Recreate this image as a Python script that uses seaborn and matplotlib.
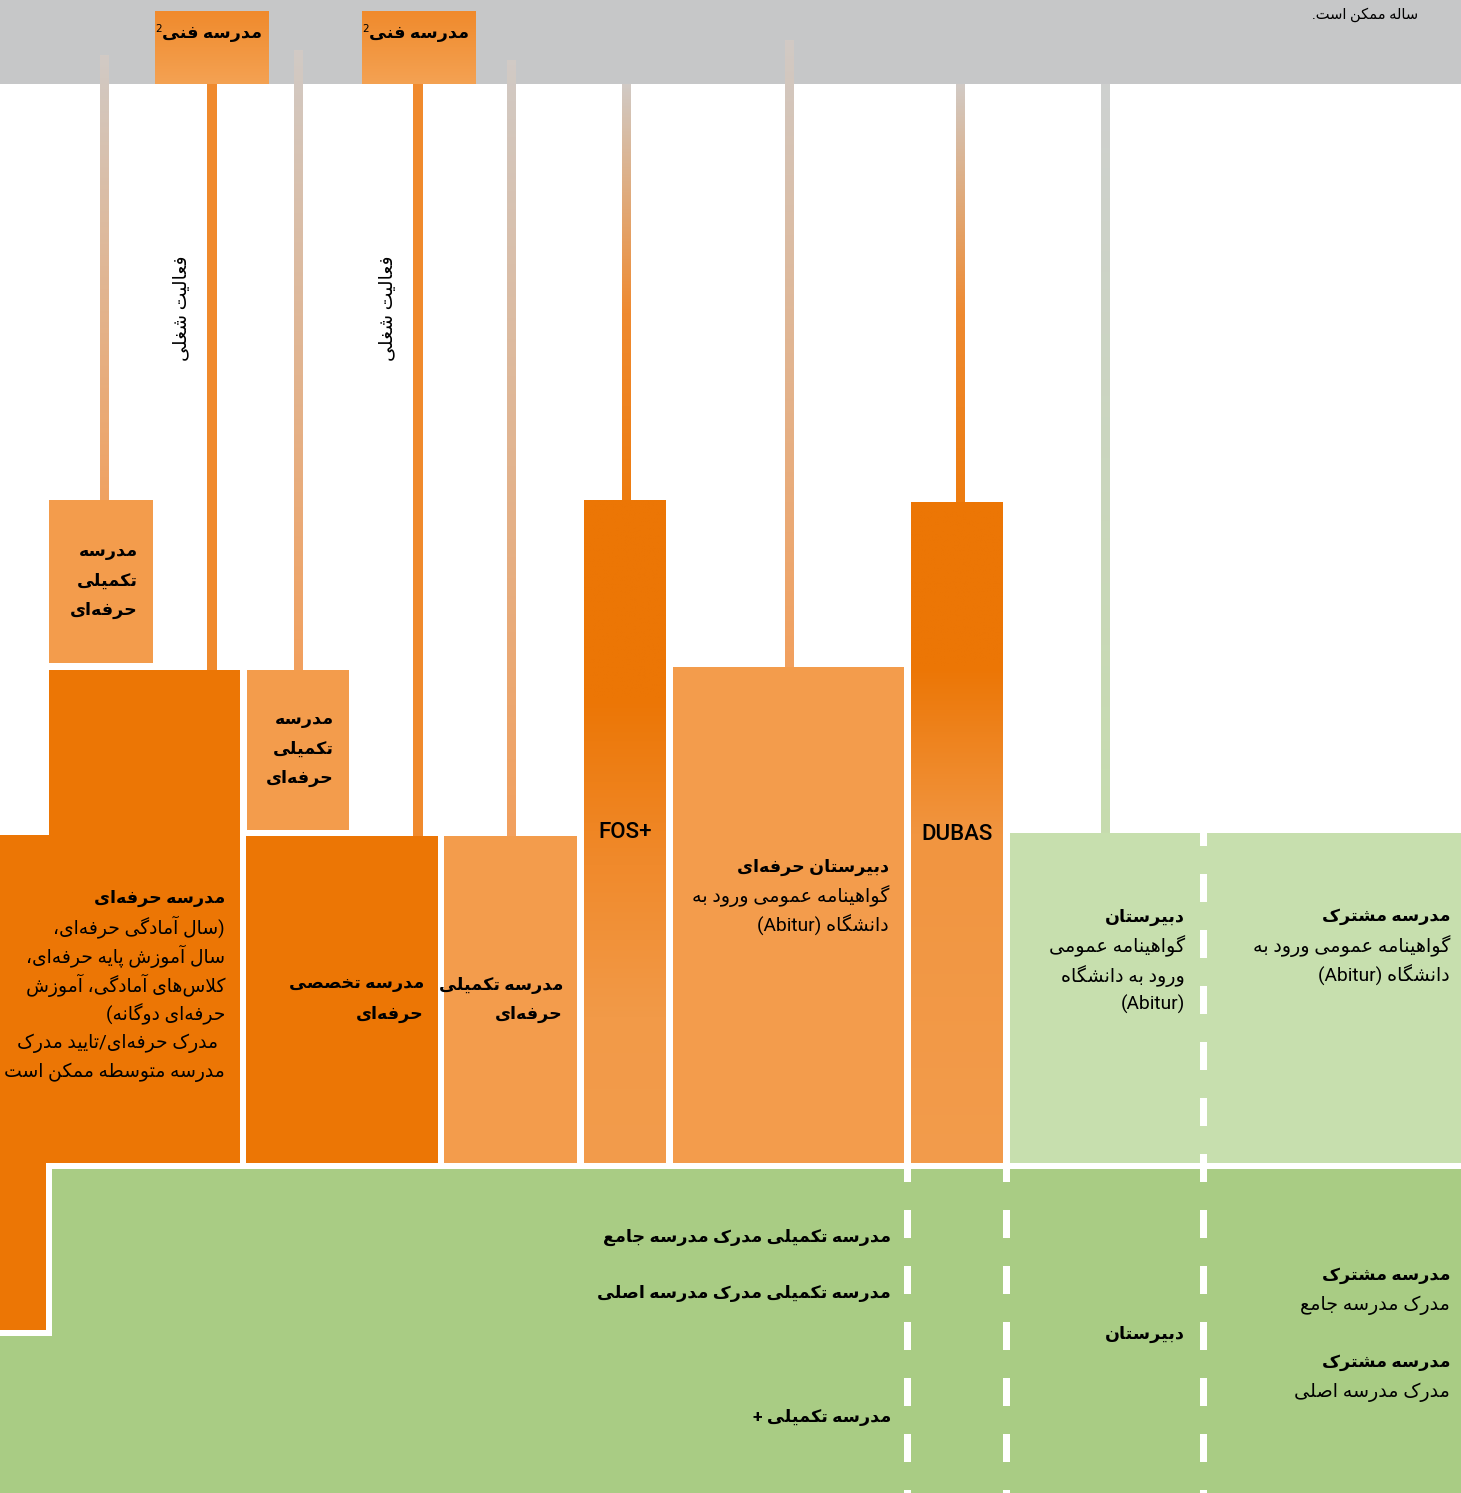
import unicodedata
import numpy as np
import matplotlib
matplotlib.use("Agg")
import matplotlib.pyplot as plt
from matplotlib.patches import Rectangle
from matplotlib.colors import LinearSegmentedColormap
import seaborn as sns

# ---------------- data (labels) ----------------
top_box_label = "مدرسه فنی²"
side_label = "فعالیت شغلی"
small_box_lines = ["مدرسه", "تکمیلی", "حرفه‌ای"]
vocational_lines = ["مدرسه حرفه‌ای", "(سال آمادگی حرفه‌ای،", "سال آموزش پایه حرفه‌ای،",
                    "کلاس‌های آمادگی، آموزش", "حرفه‌ای دوگانه)", "مدرک حرفه‌ای/تایید مدرک",
                    "مدرسه متوسطه ممکن است"]
special_lines = ["مدرسه تخصصی", "حرفه‌ای"]
further_lines = ["مدرسه تکمیلی", "حرفه‌ای"]
fos_label = "FOS+"
dubas_label = "DUBAS"
voc_high_lines = ["دبیرستان حرفه‌ای", "گواهینامه عمومی ورود به", "دانشگاه (Abitur)"]
gym_lines = ["دبیرستان", "گواهینامه عمومی", "ورود به دانشگاه", "(Abitur)"]
comp_lines = ["مدرسه مشترک", "گواهینامه عمومی ورود به", "دانشگاه (Abitur)"]
lower_mid = ["مدرسه تکمیلی مدرک مدرسه جامع", "مدرسه تکمیلی مدرک مدرسه اصلی", "مدرسه تکمیلی +"]
lower_gym = "دبیرستان"
lower_comp = ["مدرسه مشترک", "مدرک مدرسه جامع", "مدرسه مشترک", "مدرک مدرسه اصلی"]
note_line = "ساله ممکن است."

# ---------------- Persian shaping helpers ----------------
D = set("بپتثجچحخسشصضطظعغفقکگلمنهیئيك")
R = set("اآأإدذرزژوؤة")
FORMS = {
    'ا': ('\uFE8D', '\uFE8E', None, None), 'آ': ('\uFE81', '\uFE82', None, None),
    'ب': ('\uFE8F', '\uFE90', '\uFE91', '\uFE92'), 'پ': ('\uFB56', '\uFB57', '\uFB58', '\uFB59'),
    'ت': ('\uFE95', '\uFE96', '\uFE97', '\uFE98'), 'ث': ('\uFE99', '\uFE9A', '\uFE9B', '\uFE9C'),
    'ج': ('\uFE9D', '\uFE9E', '\uFE9F', '\uFEA0'), 'چ': ('\uFB7A', '\uFB7B', '\uFB7C', '\uFB7D'),
    'ح': ('\uFEA1', '\uFEA2', '\uFEA3', '\uFEA4'), 'خ': ('\uFEA5', '\uFEA6', '\uFEA7', '\uFEA8'),
    'د': ('\uFEA9', '\uFEAA', None, None), 'ذ': ('\uFEAB', '\uFEAC', None, None),
    'ر': ('\uFEAD', '\uFEAE', None, None), 'ز': ('\uFEAF', '\uFEB0', None, None),
    'ژ': ('\uFB8A', '\uFB8B', None, None),
    'س': ('\uFEB1', '\uFEB2', '\uFEB3', '\uFEB4'), 'ش': ('\uFEB5', '\uFEB6', '\uFEB7', '\uFEB8'),
    'ص': ('\uFEB9', '\uFEBA', '\uFEBB', '\uFEBC'), 'ض': ('\uFEBD', '\uFEBE', '\uFEBF', '\uFEC0'),
    'ط': ('\uFEC1', '\uFEC2', '\uFEC3', '\uFEC4'), 'ظ': ('\uFEC5', '\uFEC6', '\uFEC7', '\uFEC8'),
    'ع': ('\uFEC9', '\uFECA', '\uFECB', '\uFECC'), 'غ': ('\uFECD', '\uFECE', '\uFECF', '\uFED0'),
    'ف': ('\uFED1', '\uFED2', '\uFED3', '\uFED4'), 'ق': ('\uFED5', '\uFED6', '\uFED7', '\uFED8'),
    'ک': ('\uFB8E', '\uFB8F', '\uFB90', '\uFB91'), 'گ': ('\uFB92', '\uFB93', '\uFB94', '\uFB95'),
    'ل': ('\uFEDD', '\uFEDE', '\uFEDF', '\uFEE0'), 'م': ('\uFEE1', '\uFEE2', '\uFEE3', '\uFEE4'),
    'ن': ('\uFEE5', '\uFEE6', '\uFEE7', '\uFEE8'), 'ه': ('\uFEE9', '\uFEEA', '\uFEEB', '\uFEEC'),
    'و': ('\uFEED', '\uFEEE', None, None), 'ی': ('\uFBFC', '\uFBFD', '\uFBFE', '\uFBFF'),
    'ئ': ('\uFE89', '\uFE8A', '\uFE8B', '\uFE8C'),
}
MIRROR = str.maketrans("()", ")(")


def shape_word(w):
    ch = list(w)
    n = len(ch)
    out = []

    def jp(i):
        return (ch[i] in D or ch[i] in R) and i > 0 and ch[i - 1] in D

    def jn(i):
        return ch[i] in D and i + 1 < n and (ch[i + 1] in D or ch[i + 1] in R)

    i = 0
    while i < n:
        c = ch[i]
        if c == 'ل' and i + 1 < n and ch[i + 1] in 'اآ':
            lig = {'ا': ('\uFEFB', '\uFEFC'), 'آ': ('\uFEF5', '\uFEF6')}[ch[i + 1]]
            out.append(lig[1] if jp(i) else lig[0])
            i += 2
            continue
        if c in FORMS:
            iso, fin, ini, med = FORMS[c]
            p, q = jp(i), jn(i)
            out.append(med if (p and q) else fin if p else ini if q else iso)
        elif c != '\u200c':
            out.append(c)
        i += 1
    return ''.join(out)


def rtl(line):
    vis = []
    for w in line.split(' '):
        if any('\u0600' <= c <= '\u06FF' for c in w):
            vis.append(shape_word(w).translate(MIRROR)[::-1])
        else:
            vis.append(w)
    return ' '.join(vis[::-1])


# ---------------- figure ----------------
sns.set_theme(style="white")
plt.rcParams['font.family'] = ['DejaVu Sans']
plt.rcParams['text.color'] = 'black'
W, H = 1461, 1493
fig = plt.figure(figsize=(W / 100, H / 100), dpi=100)
ax = fig.add_axes([0, 0, 1, 1])
ax.axis('off')
ax.set_xlim(0, W)
ax.set_ylim(H, 0)

DARK = "#ec7605"
LIGHT = "#f39c4c"
GRAY = "#c6c7c8"
LGREEN = "#c7dfae"
GREEN = "#a9cc84"


def rect(x0, y0, x1, y1, c, z=1):
    ax.add_patch(Rectangle((x0, y0), x1 - x0, y1 - y0, facecolor=c, edgecolor='none', lw=0, zorder=z))


def grad(x0, y0, x1, y1, stops, z=2):
    cm = LinearSegmentedColormap.from_list('g', stops)
    arr = np.linspace(0, 1, 256).reshape(-1, 1)
    ax.imshow(arr, cmap=cm, extent=(x0, x1, y1, y0), aspect='auto', origin='upper',
              interpolation='bilinear', zorder=z)


# gray band
rect(0, 0, W, 84, GRAY)

# gradient connector lines
gline = "#d1cac5"
grad(100, 55, 109, 500, [(0, gline), (1, "#f0a262")])
grad(294, 50, 303, 670, [(0, gline), (1, "#f2a05e")])
grad(507, 60, 516, 836, [(0, gline), (1, "#f2a05e")])
grad(785, 40, 794, 667, [(0, gline), (1, "#f2a05e")])
grad(622, 84, 631, 500, [(0, gline), (0.55, "#ef8a30"), (1, "#ed7c10")])
grad(956, 84, 965, 502, [(0, gline), (0.55, "#ef8a30"), (1, "#ed7c10")])
grad(1101, 84, 1110, 833, [(0, "#cfd0cf"), (1, "#c6dcae")])

# solid orange lines from top boxes
rect(207, 84, 217, 670, "#f08a2d", 2)
rect(413, 84, 423, 836, "#f08a2d", 2)

# top boxes
grad(155, 11, 269, 84, [(0, "#f08a2c"), (1, "#f4a253")], 3)
grad(362, 11, 476, 84, [(0, "#f08a2c"), (1, "#f4a253")], 3)

# orange boxes
rect(49, 500, 153, 663, LIGHT, 3)
rect(49, 670, 240, 836, DARK, 3)
rect(0, 835, 240, 1163, DARK, 3)
rect(0, 1163, 46, 1330, DARK, 3)
rect(247, 670, 349, 830, LIGHT, 3)
rect(246, 836, 438, 1163, DARK, 3)
rect(444, 836, 577, 1163, LIGHT, 3)
grad(584, 500, 666, 1163, [(0, DARK), (0.3, DARK), (0.55, "#f08a2c"), (0.78, "#f29a48"), (1, LIGHT)], 3)
rect(673, 667, 904, 1163, LIGHT, 3)
grad(911, 502, 1003, 1163, [(0, DARK), (0.25, DARK), (0.5, "#f19540"), (1, LIGHT)], 3)

# green areas
rect(1010, 833, W, 1163, LGREEN, 3)
rect(52, 1169, W, H, GREEN, 3)
rect(0, 1336, 52, H, GREEN, 3)

# dashed white separators
starts = np.arange(818, H, 56)
for xc, top in [(907, 1168), (1006, 1168), (1203, 833)]:
    for s in starts:
        a, b = max(s, top), s + 28
        if b > top:
            rect(xc - 3.5, a, xc + 3.5, min(b, H), "white", 4)

# ---------------- texts ----------------
FS = 13.8
BFS = 12.6
mixed = ['Roboto', 'DejaVu Sans']


def t(x, y, s, bold=False, ha='right', fs=None, rot=0, fam=None):
    return ax.text(x, y, rtl(s), ha=ha, va='center', fontsize=fs or (BFS if bold else FS),
                   fontweight='bold' if bold else 'normal', rotation=rot,
                   family=fam or mixed, color='black', zorder=10)


renderer = fig.canvas.get_renderer()
base, sup = top_box_label[:-1], unicodedata.normalize('NFKC', top_box_label[-1])
for xr in (262, 469):
    tt = t(xr, 34, base, True, fs=12.6)
    bb = tt.get_window_extent(renderer)
    xl = ax.transData.inverted().transform((bb.x0, bb.y0))[0]
    ax.text(xl - 0.5, 29, sup, ha='right', va='center', fontsize=7.5, color='black', zorder=10)

t(182, 308, side_label, ha='center', rot=90, fs=13.5)
t(388, 308, side_label, ha='center', rot=90, fs=13.5)

for i, s in enumerate(small_box_lines):
    t(138, 552 + 29 * i, s, True)
    t(334, 720 + 29 * i, s, True)

for i, s in enumerate(vocational_lines):
    t(218 if i == 5 else 225, 898 + 29 * i, s, i == 0, fs=None if i == 0 else 13.5)

for i, s in enumerate(special_lines):
    t(424, 985 + 29 * i, s, True)
for i, s in enumerate(further_lines):
    t(563, 985 + 29 * i, s, True)

ax.text(625, 832, fos_label, ha='center', va='center', fontsize=16, family='Roboto',
        fontweight='medium', color='black', zorder=10)
ax.text(957, 834, dubas_label, ha='center', va='center', fontsize=16, family='Roboto',
        fontweight='medium', color='black', zorder=10)

for i, s in enumerate(voc_high_lines):
    t(889, 867 + 29 * i, s, i == 0)
for i, s in enumerate(gym_lines):
    t(1185, 917 + 29.3 * i, s, i == 0)
for i, s in enumerate(comp_lines):
    t(1450, 917 + 29 * i, s, i == 0)

for y, s in zip([1237, 1294, 1417], lower_mid):
    t(891, y, s, True)
t(1185, 1334, lower_gym, True)
for y, s, b in zip([1276, 1305, 1363, 1392], lower_comp, [True, False, True, False]):
    t(1450, y, s, b)

t(1418, 15, note_line, fs=10.5)

fig.savefig("out.png", dpi=100)
